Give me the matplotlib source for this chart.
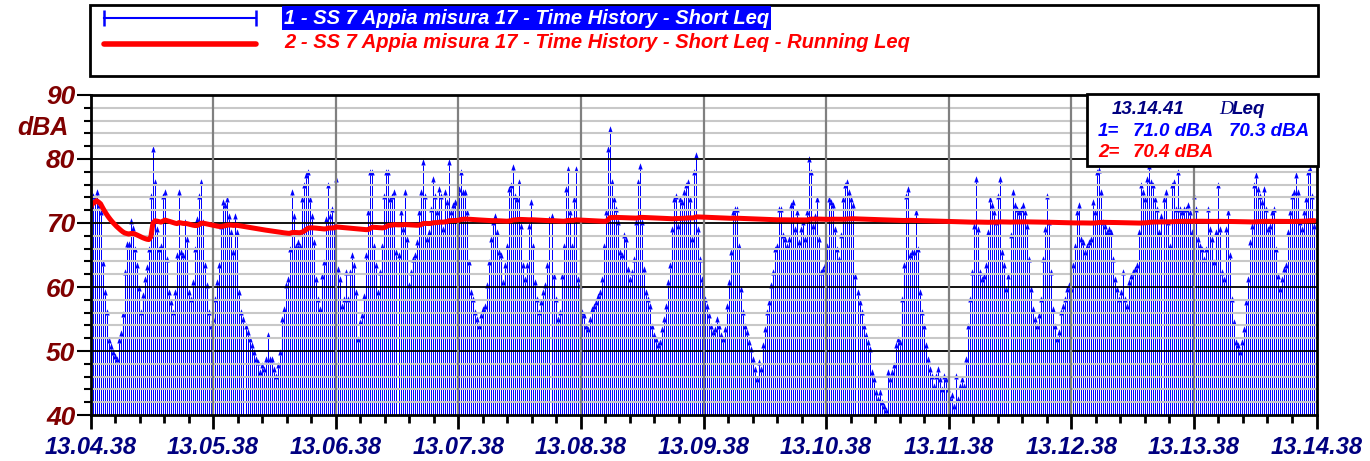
import matplotlib
matplotlib.use("Agg")
import matplotlib.pyplot as plt
import numpy as np
from matplotlib.lines import Line2D
from matplotlib.patches import Rectangle
from matplotlib.path import Path
from matplotlib.ticker import FixedLocator, MultipleLocator

plt.rcParams['font.family'] = ['Liberation Sans', 'DejaVu Sans']

# Short Leq (dBA), one value per sample, 13.04.38 -> 13.14.38
leq_part1 = [
    72.3, 73.8, 73.3, 74.3, 72.3, 71.3, 63.3, 58.8, 55.6, 51.3, 50.3, 49.3, 48.8, 48.3, 51.3,
    52.3, 55.3, 61.8, 66.3, 66.3, 69.8, 68.8, 65.5, 62.9, 59.3, 55.6, 58.3, 60.8, 62.6, 65.5,
    73.8, 81.1, 75.9, 68.6, 65.5, 66, 73.8, 74.3, 63.9, 58.7, 57.2, 55.6, 58.7, 64.5, 74.3, 65,
    64.5, 69.7, 67.1, 58.7, 57.7, 60.3, 65.5, 70.2, 73.8, 75.9, 69.7, 62.9, 59.8, 55.6, 53.5,
    54.6, 57.7, 60.3, 62.9, 69.1, 72.8, 72.3, 73.3, 70.7, 68.1, 65, 70.7, 68.1, 58.7, 55.6,
    54.6, 53.5, 52.5, 51.4, 50.4, 49.4, 48.3, 47.8, 46.2, 47.3, 46.7, 48.3, 52, 48.3, 48.3,
    46.7, 45.7, 47.3, 49.4, 54.6, 56.1, 59.8, 60.8, 65.5, 74.3, 70.7, 66, 66.5, 66, 73.3, 75.4,
    77, 77.5, 73.3, 70.7, 66.5, 60.8, 57.7, 56.1, 61.3, 63.4, 70.2, 75.4, 70.7, 71.7, 69.1,
    76.4, 62.4, 60.8, 56.6, 57.7, 61.8, 57.7, 61.8, 64.5, 62.9, 58.7, 51.4, 54, 55.1, 58.2,
    64.5, 71.2, 77.5, 77.5, 66, 62.9, 58.7, 61.8, 66, 73.8, 77.5, 77.5, 73.3, 73.8, 74.3, 65,
    64.5, 71.2, 68.6, 74.3, 67.1, 59.8, 61.8, 63.9, 64.5, 66.5, 71.2, 74.3, 79, 73.8, 67.1,
    68.1, 71.7, 76.4, 73.8, 71.2, 74.9, 73.8, 68.6, 74.3, 72.8, 79, 71.2, 72.3, 72.8, 72.8,
    74.9, 77.5, 74.3, 74.3, 71.2, 63.4, 58.7, 57.7, 55.6, 54.6, 53.5, 55.1, 56.1, 56.6, 59.8,
    63.4, 67.1, 69.7, 70.7,
]
leq_part2 = [
    68.1, 65, 64.5, 60.3, 62.9, 66, 74.9, 75.4, 78.3, 73.8, 73.3, 75.9, 69.1, 62.9, 60.8, 62.9,
    69.1, 72.8, 66, 60.3, 57.7, 55.6, 57.2, 58.7, 59.8, 62.9, 70.2, 70.7, 61.3, 57.7, 54.6,
    55.6, 61.3, 66, 74.9, 78, 71.2, 66, 73.3, 78, 60.8, 59.8, 55.6, 55.1, 53.5, 53, 54.6, 56.1,
    56.6, 57.2, 58.2, 58.7, 60.8, 66, 71.2, 81.1, 84.2, 75.9, 73.3, 71.7, 69.7, 65, 64.5, 67.6,
    67.1, 62.4, 60.8, 61.8, 63.9, 69.7, 75.9, 78.5, 69.7, 62.4, 58.7, 57.7, 56.6, 53.5, 52,
    51.4, 50.4, 50.9, 53, 54.6, 56.6, 60.3, 62.9, 68.6, 73.3, 73.8, 69.1, 73.3, 72.8, 74.3,
    75.4, 75.9, 73.3, 67.1, 77.5, 80.1, 68.6, 63.9, 60.8, 57.7, 56.6, 55.1, 53.5, 52.5, 53,
    54.6, 53.5, 52, 51.4, 53, 56.6, 60.3, 65, 71.2, 71.7, 71.7, 66, 59.2, 55.6, 53.5, 52.5,
    50.9, 49.9, 48.3, 46.7, 45.2, 47.8, 46.7, 50.4, 53, 55.6, 57.2, 59.8, 61.8, 65.5, 66, 71.7,
    71.7, 67.6, 67.1, 66, 67.1, 72.3, 72.8, 68.6, 71.2, 66.5, 68.6, 69.7, 67.1, 71.2, 79.6,
    77.5, 69.1, 70.7, 73.3, 67.1, 61.8, 62.4, 62.9, 66, 73.3, 72.8, 72.3, 68.6, 65.5, 63.9,
    67.6, 73.3, 75.4, 75.9, 74.3, 73.3, 72.3, 61.3, 58.7, 57.2, 55.6, 53.5, 52, 50.9, 49.9,
    46.2, 45.2, 43.1, 42.1, 43.1, 41.5, 41, 40.3, 46.2, 45.2, 46.2, 47.3, 50.4, 51.4, 50.9,
    57.7, 62.9, 73.8,
]
leq_part3 = [
    74.9, 64.5, 65, 65, 71.2, 65.5, 58.7, 55.6, 53.5, 50.4, 48.3, 46.7, 45.7, 44.1, 45.7, 46.7,
    45.2, 43.6, 45.7, 45.2, 43.6, 42.1, 42.6, 41, 45.7, 42.1, 44.1, 45.2, 44.1, 48.3, 53.5,
    57.7, 61.8, 69.1, 76.4, 68.6, 61.8, 60.8, 61.3, 62.9, 68.1, 73.3, 72.3, 71.2, 69.7, 73.8,
    76.4, 65, 62.9, 59.2, 61.3, 67.6, 74.3, 72.3, 71.7, 71.2, 71.7, 72.3, 71.2, 69.1, 63.9,
    59.2, 56.1, 54.6, 53.5, 55.1, 57.7, 63.9, 68.6, 73.8, 69.7, 61.8, 56.1, 53.5, 51.4, 52.5,
    55.6, 56.6, 57.7, 59.2, 59.8, 59.2, 62.9, 66, 71.2, 72.3, 67.1, 66.5, 65, 66, 66.5, 67.1,
    72.8, 71.2, 77.5, 77.8, 74.3, 69.7, 69.1, 68.1, 68.6, 68.1, 63.9, 60.8, 59.2, 57.7, 58.7,
    61.8, 57.7, 56.6, 60.3, 61.3, 61.8, 62.4, 62.9, 68.1, 75.4, 74.3, 73.3, 76.4, 78.5, 75.9,
    75.4, 73.3, 71.7, 68.1, 70.7, 73.3, 74.3, 69.7, 66, 75.4, 75.9, 71.7, 77.5, 71.7, 71.2,
    71.7, 71.7, 72.3, 71.2, 68.1, 73.8, 71.7, 67.1, 66, 65.5, 63.9, 65.5, 71.7, 68.6, 67.1,
    63.4, 68.1, 75.4, 68.6, 61.8, 60.8, 68.6, 71.2, 64.5, 57.7, 54, 50.9, 50.4, 49.4, 50.9, 53,
    57.2, 60.8, 66.5, 69.1, 75.4, 77, 74.9, 73.8, 72.8, 74.9, 71.7, 68.6, 69.1, 71.2, 71.7,
    65.5, 61.3, 59.2, 60.8, 62.4, 62.9, 68.1, 71.2, 73.8, 74.3, 77, 74.3, 69.7, 68.6, 71.2,
    73.3, 77.5, 78, 73.8, 69.1,
]
time_labels = ['13.04.38', '13.05.38', '13.06.38', '13.07.38', '13.08.38', '13.09.38',
               '13.10.38', '13.11.38', '13.12.38', '13.13.38', '13.14.38']

leq = np.array(leq_part1 + leq_part2 + leq_part3)
t = np.arange(len(leq)) * (600.0 / len(leq))
# running Leq = energy average of all samples so far
running = 10 * np.log10(np.cumsum(10 ** (leq / 10)) / np.arange(1, len(leq) + 1))

W, H = 1370, 461
def fx(px):
    return px / W
def fy(py):
    return 1 - py / H

# small arrowhead sitting on top of each sample line
arrow = Path([(-0.35, 0), (0, 1), (0.35, 0), (-0.35, 0)],
             [Path.MOVETO, Path.LINETO, Path.LINETO, Path.CLOSEPOLY])

fig = plt.figure(figsize=(W / 100, H / 100), dpi=100)
# 1226 px wide plot area, so each sample line lands on its own pixel column
ax = fig.add_axes([90.5 / W, 46 / H, 1226 / W, 320 / H])

ax.vlines(t, 40, leq, color='#0000ff', lw=0.72, zorder=2)
ax.plot(t, leq, ls='none', marker=arrow, ms=9, mew=0, color='#0000ff', zorder=2)

for v in range(42, 90, 2):
    if v % 10:
        ax.axhline(v, color='#c8c8c8', lw=1.5, zorder=3)
    else:
        ax.axhline(v, color='black', lw=1.3, zorder=3)
for m in range(60, 600, 60):
    ax.axvline(m, color='#808080', lw=1.6, zorder=3)

ax.plot(t, running, color='#ff0000', lw=3.6, zorder=4, solid_capstyle='round')

ax.set_xlim(0, 600)
ax.set_ylim(40, 90)
for s in ax.spines.values():
    s.set_linewidth(2)
    s.set_zorder(5)

ax.xaxis.set_major_locator(FixedLocator(np.arange(0, 601, 60)))
ax.xaxis.set_minor_locator(MultipleLocator(12))
ax.set_xticklabels(time_labels, fontsize=17, fontweight='bold', fontstyle='italic', color='#000080')
ax.yaxis.set_major_locator(MultipleLocator(10))
ax.yaxis.set_minor_locator(MultipleLocator(2))
ax.tick_params(axis='y', which='major', labelsize=19, labelcolor='#800000', length=10, width=1.5, pad=1)
ax.tick_params(axis='y', which='minor', length=5, width=1.5)
ax.tick_params(axis='x', which='major', length=10, width=2, pad=5)
ax.tick_params(axis='x', which='minor', length=6, width=2)
for lab in ax.get_yticklabels():
    lab.set_fontweight('bold')
    lab.set_fontstyle('italic')

fig.text(fx(43), fy(128), 'dBA', fontsize=18, fontweight='bold', fontstyle='italic',
         color='#800000', ha='center', va='center')

# header with series legend
fig.add_artist(Rectangle((fx(90), fy(76)), fx(1318) - fx(90), fy(5) - fy(76),
                         transform=fig.transFigure, fill=False, ec='black', lw=2))
fig.add_artist(Line2D([fx(104), fx(256)], [fy(18), fy(18)], transform=fig.transFigure,
                      color='#0000ff', lw=1.5, marker='|', ms=12, mew=1.8))
fig.add_artist(Line2D([fx(104), fx(256)], [fy(44), fy(44)], transform=fig.transFigure,
                      color='#ff0000', lw=4, solid_capstyle='round'))
fig.text(fx(284), fy(18), '1 - SS 7 Appia misura 17 - Time History - Short Leq',
         fontsize=14.5, fontweight='bold', fontstyle='italic', color='white', ha='left', va='center',
         bbox=dict(boxstyle='square,pad=0.1', fc='#0000ff', ec='none'))
fig.text(fx(284), fy(43), '2 - SS 7 Appia misura 17 - Time History - Short Leq - Running Leq',
         fontsize=14.5, fontweight='bold', fontstyle='italic', color='#ff0000', ha='left', va='center')

# cursor readout box
fig.add_artist(Rectangle((fx(1087), fy(166)), fx(1318) - fx(1087), fy(94) - fy(166),
                         transform=fig.transFigure, fc='white', ec='black', lw=2, zorder=5))
info = dict(fontsize=13.5, fontweight='bold', fontstyle='italic', va='center', ha='left', zorder=6)
fig.text(fx(1112), fy(110), '13.14.41', color='#000080', **info)
fig.text(fx(1219), fy(110), 'D', color='#000080', fontsize=14, fontstyle='italic',
         family='Liberation Serif', va='center', ha='left', zorder=6)
fig.text(fx(1232), fy(110), 'Leq', color='#000080', **info)
fig.text(fx(1098), fy(131), '1=', color='#0000ff', **info)
fig.text(fx(1133), fy(131), '71.0 dBA', color='#0000ff', **info)
fig.text(fx(1229), fy(131), '70.3 dBA', color='#0000ff', **info)
fig.text(fx(1098), fy(152), '2=', color='#ff0000', **info)
fig.text(fx(1133), fy(152), f'{running[-1]:.1f} dBA', color='#ff0000', **info)

fig.savefig('out.png', dpi=100)
